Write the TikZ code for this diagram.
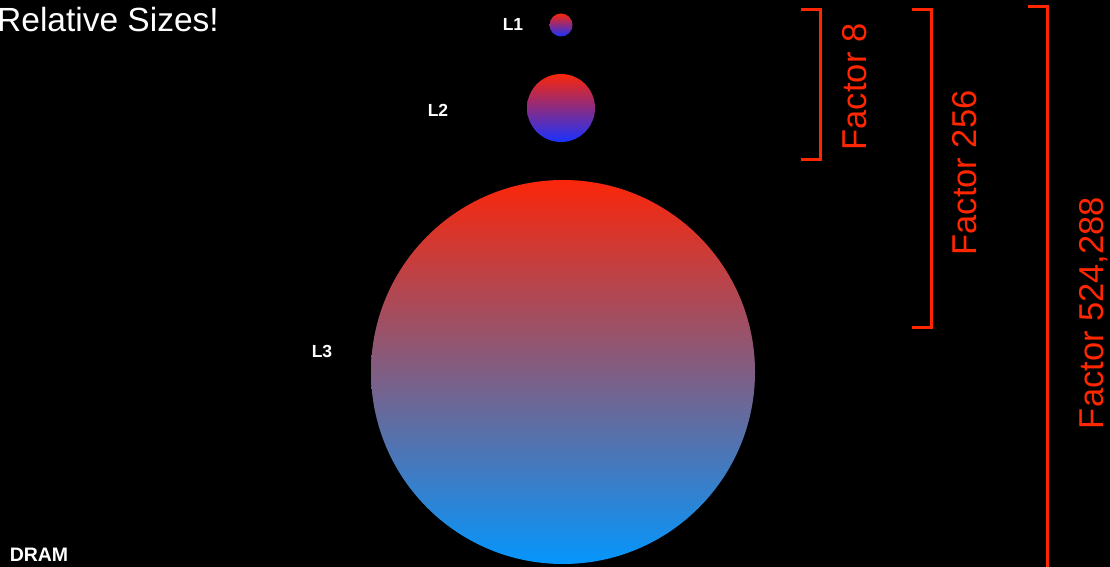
\documentclass[tikz,border=0pt]{standalone}
\usepackage{fontspec}
\setmainfont{Liberation Sans}
\definecolor{factorred}{RGB}{255,38,0}
\definecolor{hotred}{RGB}{250,38,10}
\definecolor{deepblue}{RGB}{25,50,255}
\definecolor{skyblue}{RGB}{5,150,252}
\tikzset{
  level/.style={text=white, font=\bfseries\fontsize{17.5}{20}\selectfont},
  factor/.style={text=factorred, font=\fontsize{34.5}{40}\selectfont, rotate=90, anchor=base, inner sep=0pt},
  bracket/.style={draw=factorred, line width=3pt}
}

\begin{document}
\begin{tikzpicture}[x=1pt, y=-1pt]
  \fill[black] (0,0) rectangle (1110,567);
  \clip (0,0) rectangle (1110,567);
  \node[anchor=base west, inner sep=0pt, text=white, font=\fontsize{33.5}{40}\selectfont] (title) at (-3,32) {Relative Sizes!};
  % the three caches, red on top fading to blue
  \shade[top color=hotred, bottom color=deepblue] (561,25) circle (11.5);
  \shade[top color=hotred, bottom color=deepblue] (561,108) circle (34);
  \shade[top color=hotred, bottom color=skyblue] (563,372) circle (192);
  \node[level] (l1) at (513,24) {L1};
  \node[level] (l2) at (438,110) {L2};
  \node[level] (l3) at (322,351) {L3};
  \node[level, font=\bfseries\fontsize{19.5}{22}\selectfont] (dram) at (39,555) {DRAM};
  \foreach \x/\t/\b in {820/10/159, 931/10/327, 1047/7/600}{
    \draw[bracket] (\x-19,\t) -- (\x,\t) -- (\x,\b) -- (\x-19,\b);
  }
  \foreach \n/\x/\y/\f in {a/866/87/8, b/976/173/256, c/1103/313/{524,288}}{
    \node[factor] (f\n) at (\x,\y) {Factor \f};
  }
\end{tikzpicture}
\end{document}
